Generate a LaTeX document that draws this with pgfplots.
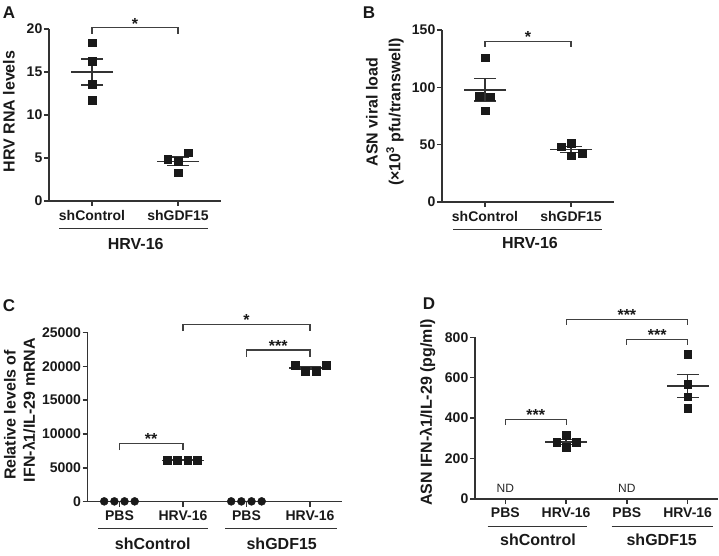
\documentclass[border=0pt]{standalone}
\usepackage{pgfplots}
\pgfplotsset{compat=1.18}
\usepackage{fontspec}
\setmainfont{Liberation Sans}
\newcommand{\fs}[1]{\fontsize{#1}{#1}\selectfont}
\begin{document}
\begin{tikzpicture}[x=1pt,y=1pt]
\path[use as bounding box] (0,0) rectangle (719,555);
\pgfplotsset{
  panel/.style={scale only axis, axis x line*=bottom, axis y line*=left,
    axis line style={line width=1.4pt, draw=black!80},
    tick style={line width=1.4pt, draw=black!80},
    tick align=outside, major tick length=5pt,
    clip=false, anchor=south west,
    ticklabel style={font=\fs{14}\bfseries, text=black!90},
    yticklabel style={inner sep=1.5pt},
    xticklabel style={inner sep=2pt, yshift=-2pt},
    /pgf/number format/assume math mode=true,
    /pgf/number format/1000 sep={},
    scaled y ticks=false,
  },
  sq/.style={only marks, mark=square*, mark size=3.9pt, black!90},
  ci/.style={only marks, mark=*, mark size=4pt, black!90},
  msem/.style={black!80, only marks, mark=-, mark size=21pt, mark options={line width=1.5pt},
    error bars/.cd, y dir=both, y explicit, error mark=|,
    error bar style={line width=1.3pt},
    error mark options={mark size=11pt, line width=1.3pt}},
  sig/.style={black!75, line width=1.2pt, mark=none},
}
\tikzset{star/.style={font=\fs{16}\bfseries, anchor=base, yshift=-1.5pt, text=black!90}}

% ---------- A ----------
\begin{axis}[panel, at={(49pt,354pt)}, width=172pt, height=172pt,
  xmin=-0.5, xmax=1.5, ymin=0, ymax=20, ytick={0,5,10,15,20},
  xtick={0,1}, xticklabels={shControl,shGDF15}]
\addplot[msem] coordinates {(0,15.0) +- (0,1.5) (1,4.6) +- (0,0.5)};
\addplot[sq] coordinates {(0,18.4) (0,16.3) (0,13.6) (0,11.7)};
\addplot[sq] coordinates {(0.88,4.85) (1.0,4.62) (1.12,5.62) (1.0,3.29)};
\addplot[sig] coordinates {(0,19.45) (0,20.15) (1,20.15) (1,19.45)};
\node[star] at (axis cs:0.5,20.15) {*};
\end{axis}

% ---------- B ----------
\begin{axis}[panel, at={(442pt,353pt)}, width=172pt, height=172pt,
  xmin=-0.5, xmax=1.5, ymin=0, ymax=150, ytick={0,50,100,150},
  xtick={0,1}, xticklabels={shControl,shGDF15}]
\addplot[msem] coordinates {(0,97.7) +- (0,9.7) (1,45.6) +- (0,2.6)};
\addplot[sq] coordinates {(0,125.8) (-0.07,92.4) (0.06,91.8) (0,79.6)};
\addplot[sq] coordinates {(0.89,48.2) (1.0,51.2) (1.13,42.5) (1.0,40.4)};
\addplot[sig] coordinates {(0,135.5) (0,140) (1,140) (1,135.5)};
\node[star] at (axis cs:0.5,140) {*};
\end{axis}

% ---------- C ----------
\begin{axis}[panel, at={(87.7pt,53.3pt)}, width=254pt, height=169.3pt,
  xmin=-0.5, xmax=3.5, ymin=0, ymax=25000, ytick={0,5000,10000,15000,20000,25000},
  xtick={0,1,2,3}, xticklabels={PBS,HRV-16,PBS,HRV-16}]
\addplot[msem] coordinates {(0,50) +- (0,10) (1,6120) +- (0,25) (2,50) +- (0,10) (3,19750) +- (0,260)};
\addplot[ci] coordinates {(-0.24,50) (-0.08,50) (0.08,50) (0.24,50)};
\addplot[sq] coordinates {(0.75,6150) (0.915,6100) (1.075,6100) (1.23,6150)};
\addplot[ci] coordinates {(1.76,50) (1.92,50) (2.08,50) (2.24,50)};
\addplot[sq] coordinates {(2.77,20200) (2.93,19300) (3.1,19300) (3.26,20200)};
\addplot[sig] coordinates {(0,7630) (0,8620) (1,8620) (1,7630)};
\addplot[sig] coordinates {(2,21400) (2,22400) (3,22400) (3,21400)};
\addplot[sig] coordinates {(1,25200) (1,26200) (3,26200) (3,25200)};
\node[star] at (axis cs:0.5,8620) {**};
\node[star] at (axis cs:2.5,22400) {***};
\node[star] at (axis cs:2,26200) {*};
\end{axis}

% ---------- D ----------
\begin{axis}[panel, at={(475pt,56pt)}, width=243pt, height=161.7pt,
  xmin=-0.5, xmax=3.5, ymin=0, ymax=800, ytick={0,200,400,600,800},
  xtick={0,1,2,3}, xticklabels={PBS,HRV-16,PBS,HRV-16}]
\addplot[msem] coordinates {(1,283) +- (0,12.5) (3,559.5) +- (0,57)};
\addplot[sq] coordinates {(0.845,280) (1,317) (1.165,280) (1,256)};
\addplot[sq] coordinates {(3,716) (3,567) (3,506) (3,449)};
\addplot[sig] coordinates {(0,366) (0,394) (1,394) (1,366)};
\addplot[sig] coordinates {(2,762) (2,790) (3,790) (3,762)};
\addplot[sig] coordinates {(1,861) (1,889) (3,889) (3,861)};
\node[star] at (axis cs:0.5,394) {***};
\node[star] at (axis cs:2.5,790) {***};
\node[star] at (axis cs:2,889) {***};
\node[font=\fs{12}, text=black!85] at (axis cs:0,53) {ND};
\node[font=\fs{12}, text=black!85] at (axis cs:2,53) {ND};
\end{axis}

% ---------- group lines and labels ----------
\begin{scope}[line width=1.2pt, black!80]
\draw (59,326.3) -- (208,326.3);
\draw (453,325.7) -- (602,325.7);
\draw (98,26.7) -- (208,26.7);
\draw (225,26.7) -- (337,26.7);
\draw (487.7,28.3) -- (586.7,28.3);
\draw (611.7,28.3) -- (713,28.3);
\end{scope}
\begin{scope}[every node/.style={font=\fs{16}\bfseries, text=black!90, inner sep=0pt}]
\node at (135.7,311.5) {HRV-16};
\node at (530,312) {HRV-16};
\node at (152.7,11.5) {shControl};
\node at (281.7,11.5) {shGDF15};
\node at (538,15) {shControl};
\node at (661.7,15) {shGDF15};
% y labels
\node[rotate=90] at (9,443.5) {HRV RNA levels};
\node[rotate=90] at (372,443) {ASN viral load};
\node[rotate=90] at (395,443) {(×10\textsuperscript{3} pfu/transwell)};
\node[rotate=90] at (10,140) {Relative levels of};
\node[rotate=90] at (29,145) {IFN-λ1/IL-29 mRNA};
\node[rotate=90] at (427.5,142.5) {ASN IFN-λ1/IL-29 (pg/ml)};
% panel letters
\node[font=\fs{17}\bfseries] at (9,542.5) {A};
\node[font=\fs{17}\bfseries] at (369,542.5) {B};
\node[font=\fs{17}\bfseries] at (9,249.2) {C};
\node[font=\fs{17}\bfseries] at (429,251) {D};
\end{scope}
\end{tikzpicture}
\end{document}
